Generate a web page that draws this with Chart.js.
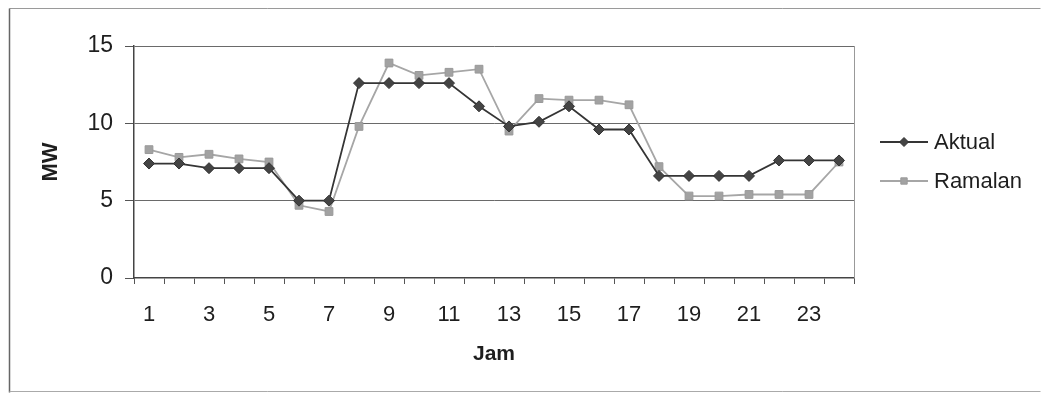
<!DOCTYPE html>
<html>
<head>
<meta charset="utf-8">
<script src="https://cdn.jsdelivr.net/npm/chart.js@4.4.1/dist/chart.umd.min.js"></script>
<style>
  html, body { margin: 0; padding: 0; background: #fff; }
  #wrap { width: 1041px; height: 397px; position: relative; }
</style>
</head>
<body>
<div id="wrap"><canvas id="c" width="1041" height="397"></canvas></div>
<script>
// Hourly load: actual vs. forecast (MW)
const hours = ['1','2','3','4','5','6','7','8','9','10','11','12','13','14','15','16','17','18','19','20','21','22','23','24'];
const aktual  = [7.4, 7.4, 7.1, 7.1, 7.1, 5.0, 5.0, 12.6, 12.6, 12.6, 12.6, 11.1, 9.8, 10.1, 11.1, 9.6, 9.6, 6.6, 6.6, 6.6, 6.6, 7.6, 7.6, 7.6];
const ramalan = [8.3, 7.8, 8.0, 7.7, 7.5, 4.7, 4.3, 9.8, 13.9, 13.1, 13.3, 13.5, 9.5, 11.6, 11.5, 11.5, 11.2, 7.2, 5.3, 5.3, 5.4, 5.4, 5.4, 7.5];
const xTickLabels = ['1','3','5','7','9','11','13','15','17','19','21','23'];
const yTicks = [0, 5, 10, 15];
const seriesNames = ['Aktual', 'Ramalan'];

const FONT = 'Liberation Sans, Arial, sans-serif';
const TEXT = '#1e1e1e';

// White page with the outer chart frame and the plot-area border
const framePlugin = {
  id: 'frame',
  beforeDraw(chart) {
    const ctx = chart.ctx;
    ctx.save();
    ctx.fillStyle = '#fff';
    ctx.fillRect(0, 0, chart.width, chart.height);
    ctx.strokeStyle = '#9a9a9a';
    ctx.lineWidth = 1;
    ctx.beginPath();
    ctx.moveTo(9.5, 8.5);
    ctx.lineTo(1040.5, 8.5);
    ctx.stroke();
    ctx.strokeStyle = '#666';
    ctx.lineWidth = 1.5;
    ctx.beginPath();
    ctx.moveTo(9.5, 8.5);
    ctx.lineTo(9.5, 392.5);
    ctx.stroke();
    ctx.strokeStyle = '#aaa';
    ctx.lineWidth = 1;
    ctx.beginPath();
    ctx.moveTo(9.5, 391.5);
    ctx.lineTo(1040.5, 391.5);
    ctx.stroke();
    ctx.restore();
  },
  beforeDatasetsDraw(chart) {
    const {ctx, chartArea: a} = chart;
    ctx.save();
    ctx.strokeStyle = '#999';
    ctx.lineWidth = 1;
    ctx.beginPath();
    ctx.moveTo(Math.round(a.right) + 0.5, a.top);
    ctx.lineTo(Math.round(a.right) + 0.5, a.bottom);
    ctx.stroke();
    ctx.restore();
  }
};

// Legend at the right: line sample with the series marker, then the name
const legendPlugin = {
  id: 'sideLegend',
  afterDraw(chart) {
    const ctx = chart.ctx;
    const rows = [142, 181];
    ctx.save();
    chart.data.datasets.forEach((ds, i) => {
      const y = rows[i];
      ctx.strokeStyle = ds.borderColor;
      ctx.lineWidth = ds.borderWidth;
      ctx.beginPath();
      ctx.moveTo(880, y);
      ctx.lineTo(928, y);
      ctx.stroke();
      ctx.fillStyle = ds.pointBackgroundColor;
      ctx.strokeStyle = ds.pointBorderColor;
      ctx.lineWidth = 1;
      Chart.helpers.drawPoint(ctx, {
        pointStyle: ds.pointStyle,
        radius: ds.pointRadius - 1,
        rotation: 0,
        borderWidth: 1
      }, 904, y);
      ctx.fillStyle = TEXT;
      ctx.font = '22px ' + FONT;
      ctx.textBaseline = 'middle';
      ctx.textAlign = 'left';
      ctx.fillText(ds.label, 934, y + 1);
    });
    ctx.restore();
  }
};

new Chart(document.getElementById('c'), {
  type: 'line',
  data: {
    labels: hours,
    datasets: [
      {
        label: seriesNames[0],
        data: aktual,
        borderColor: '#353535',
        backgroundColor: '#353535',
        pointBackgroundColor: '#444',
        pointBorderColor: '#333',
        borderWidth: 1.8,
        pointStyle: 'rectRot',
        pointRadius: 5.5,
        pointBorderWidth: 1,
        tension: 0,
        order: 1
      },
      {
        label: seriesNames[1],
        data: ramalan,
        borderColor: '#a6a6a6',
        backgroundColor: '#a6a6a6',
        pointBackgroundColor: '#a2a2a2',
        pointBorderColor: '#999',
        borderWidth: 1.8,
        pointStyle: 'rect',
        pointRadius: 5.5,
        pointBorderWidth: 1,
        tension: 0,
        order: 2
      }
    ]
  },
  options: {
    responsive: false,
    animation: false,
    devicePixelRatio: 1,
    layout: { padding: { left: 0, right: 187, top: 46, bottom: 19 } },
    plugins: {
      legend: { display: false },
      tooltip: { enabled: false }
    },
    scales: {
      x: {
        type: 'category',
        offset: true,
        afterFit(s) { s.height = 100; },
        grid: {
          offset: true,
          drawOnChartArea: false,
          drawTicks: true,
          tickLength: 6,
          tickColor: '#555',
          lineWidth: 1
        },
        border: { display: true, color: '#444', width: 1.5 },
        ticks: {
          autoSkip: false,
          maxRotation: 0,
          padding: 18,
          color: TEXT,
          font: { family: FONT, size: 22 },
          callback(value) {
            const lab = hours[value];
            return xTickLabels.includes(lab) ? lab : '';
          }
        },
        title: {
          display: true,
          text: 'Jam',
          color: TEXT,
          font: { family: FONT, size: 21, weight: 'bold' },
          padding: { top: 0, bottom: 11 }
        }
      },
      y: {
        min: 0,
        max: 15,
        afterFit(s) { s.width = 134; },
        afterBuildTicks(s) { s.ticks = yTicks.map(v => ({ value: v })); },
        grid: {
          drawTicks: true,
          tickLength: 9,
          tickColor: '#555',
          color(c) { return c.tick && c.tick.value === 0 ? 'rgba(0,0,0,0)' : '#6a6a6a'; },
          lineWidth: 1
        },
        border: { display: true, color: '#444', width: 1.5 },
        ticks: {
          padding: 12,
          color: TEXT,
          font: { family: FONT, size: 23 }
        },
        title: {
          display: true,
          text: 'MW',
          color: TEXT,
          font: { family: FONT, size: 22, weight: 'bold' },
          padding: { top: 38, bottom: 0 }
        }
      }
    }
  },
  plugins: [framePlugin, legendPlugin]
});
</script>
</body>
</html>
